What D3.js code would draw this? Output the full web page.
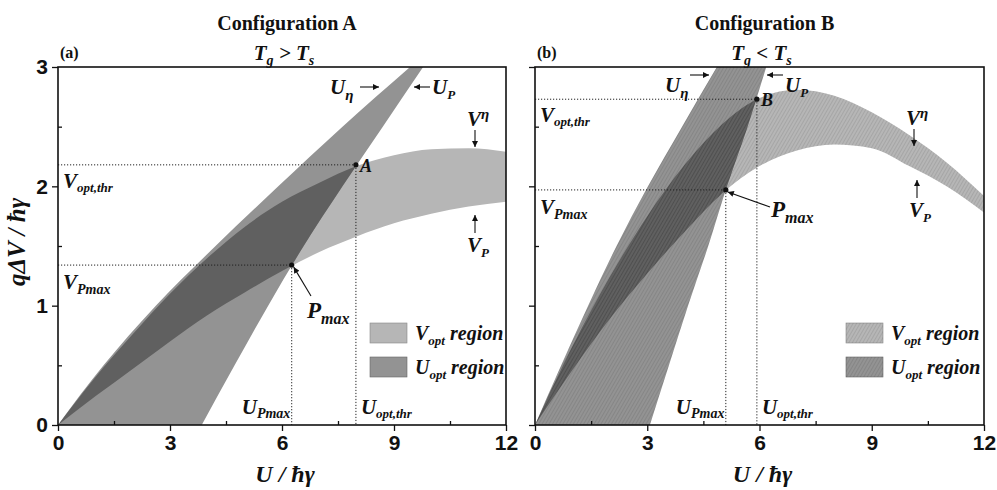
<!DOCTYPE html>
<html><head><meta charset="utf-8">
<script src="https://cdn.jsdelivr.net/npm/d3@7"></script>
<style>body{margin:0;background:#fff}</style>
</head><body>
<svg id="chart" width="997" height="490"></svg>
<script>
// Sampling grids: U values for the optimal-voltage curves, V values for the optimal-energy curves
const uGrid = [0, 1, 2, 3, 4, 5, 6, 7, 8, 9, 10, 11, 12];
const vGrid = [0, 0.5, 1, 1.5, 2, 2.5, 3];

// Configuration A (Tg > Ts)
const vEtaA = [0, 0.40, 0.76, 1.10, 1.40, 1.66, 1.87, 2.03, 2.17, 2.26, 2.31, 2.32, 2.29];
const vPowA = [0, 0.24, 0.47, 0.70, 0.92, 1.11, 1.29, 1.45, 1.58, 1.69, 1.77, 1.83, 1.87];
const uEtaA = [0, 1.22, 2.62, 4.22, 5.90, 7.62, 9.43];
const uPowA = [3.85, 4.73, 5.63, 6.58, 7.62, 8.70, 9.78];
const pMaxA = [6.26, 1.34];
const thrA = [7.98, 2.18];

// Configuration B (Tg < Ts)
const vEtaB = [0, 0.66, 1.24, 1.75, 2.18, 2.52, 2.74, 2.81, 2.76, 2.62, 2.43, 2.20, 1.92];
const vPowB = [0, 0.46, 0.89, 1.27, 1.62, 1.94, 2.17, 2.30, 2.35, 2.32, 2.17, 2.00, 1.78];
const uEtaB = [0, 0.70, 1.42, 2.18, 3.02, 3.93, 4.86];
const uPowB = [3.07, 3.58, 4.09, 4.63, 5.13, 5.68, 6.18];
const pMaxB = [5.10, 1.97];
const thrB = [5.93, 2.73];

const xTicks = [0, 3, 6, 9, 12];
const xMinor = [1.5, 4.5, 7.5, 10.5];
const yTicks = [0, 1, 2, 3];
const yMinor = [0.5, 1.5, 2.5];

const SERIF = "'Liberation Serif','Times New Roman',serif";
const SANS = "'Liberation Sans',Arial,sans-serif";
const COL_V = "#b6b6b6", COL_U = "#939393", COL_VU = "#606060";

const svg = d3.select("#chart");
const defs = svg.append("defs");
defs.append("marker").attr("id", "arr")
  .attr("viewBox", "0 0 10 10").attr("refX", 10).attr("refY", 5)
  .attr("markerWidth", 7).attr("markerHeight", 6).attr("markerUnits", "userSpaceOnUse")
  .attr("orient", "auto")
  .append("path").attr("d", "M0,0 L10,5 L0,10 Z").attr("fill", "#111");

// fine diagonal hatching laid over the shaded regions of panel (b)
const hatch = defs.append("pattern").attr("id", "hatch")
  .attr("patternUnits", "userSpaceOnUse").attr("width", 3).attr("height", 3)
  .attr("patternTransform", "rotate(30)");
hatch.append("line").attr("x1", 0).attr("y1", 0).attr("x2", 0).attr("y2", 3)
  .attr("stroke", "#000").attr("stroke-width", 1).attr("stroke-opacity", 0.18);

// italic bold label with sub/superscript parts: {t, size, s (baseline shift, +down)}
function rich(g, x, y, parts, anchor) {
  const t = g.append("text").attr("x", x).attr("y", y)
    .attr("font-family", SERIF).attr("font-style", "italic").attr("font-weight", "bold")
    .attr("text-anchor", anchor || "start").attr("fill", "#111");
  let shift = 0;
  parts.forEach(p => {
    const s = p.s || 0;
    const ts = t.append("tspan").text(p.t).attr("font-size", p.size || 20);
    if (s - shift) ts.attr("dy", s - shift);
    shift = s;
  });
  return t;
}
function arrow(g, x1, y1, x2, y2) {
  g.append("line").attr("x1", x1).attr("y1", y1).attr("x2", x2).attr("y2", y2)
    .attr("stroke", "#111").attr("stroke-width", 1.1).attr("marker-end", "url(#arr)");
}

function panel(cfg) {
  const top = 67, bottom = 425;
  const x = d3.scaleLinear().domain([0, 12]).range([cfg.left, cfg.right]);
  const y = d3.scaleLinear().domain([0, 3]).range([bottom, top]);
  const g = svg.append("g");
  const id = cfg.id;

  defs.append("clipPath").attr("id", "plot" + id).append("rect")
    .attr("x", cfg.left).attr("y", top).attr("width", cfg.right - cfg.left).attr("height", bottom - top);

  const vArea = d3.area()
    .x((d, i) => x(uGrid[i])).y0((d, i) => y(cfg.vPow[i])).y1((d, i) => y(cfg.vEta[i]))
    .curve(d3.curveMonotoneX);
  const uArea = d3.area()
    .y((d, i) => y(vGrid[i])).x0((d, i) => x(cfg.uEta[i])).x1((d, i) => x(cfg.uPow[i]))
    .curve(d3.curveMonotoneY);

  defs.append("clipPath").attr("id", "uopt" + id).append("path").attr("d", uArea(vGrid));

  const regions = g.append("g").attr("clip-path", `url(#plot${id})`);
  regions.append("path").attr("d", vArea(uGrid)).attr("fill", COL_V);
  regions.append("path").attr("d", uArea(vGrid)).attr("fill", COL_U);
  regions.append("g").attr("clip-path", `url(#uopt${id})`)
    .append("path").attr("d", vArea(uGrid)).attr("fill", COL_VU);
  if (cfg.hatched) {
    regions.append("path").attr("d", vArea(uGrid)).attr("fill", "url(#hatch)");
    regions.append("path").attr("d", uArea(vGrid)).attr("fill", "url(#hatch)");
  }

  // guide lines to the marked points
  const dots = g.append("g").attr("stroke", "#222").attr("stroke-width", 1)
    .attr("stroke-dasharray", "1.2,1.8").attr("fill", "none");
  [cfg.thr, cfg.pMax].forEach(p => {
    dots.append("line").attr("x1", x(0)).attr("x2", x(p[0])).attr("y1", y(p[1])).attr("y2", y(p[1]));
    dots.append("line").attr("x1", x(p[0])).attr("x2", x(p[0])).attr("y1", y(p[1])).attr("y2", y(0));
  });
  [cfg.thr, cfg.pMax].forEach(p => {
    g.append("circle").attr("cx", x(p[0])).attr("cy", y(p[1])).attr("r", 2.6).attr("fill", "#111");
  });

  // axes
  const ax = g.append("g").attr("font-family", SANS);
  const xa = ax.append("g").attr("transform", `translate(0,${bottom})`)
    .call(d3.axisBottom(x).tickValues(xTicks).tickSize(6).tickSizeOuter(0).tickPadding(4).tickFormat(d3.format("d")));
  const xm = ax.append("g").attr("transform", `translate(0,${bottom})`)
    .call(d3.axisBottom(x).tickValues(xMinor).tickSize(-4).tickSizeOuter(0).tickFormat(""));
  const ya = ax.append("g").attr("transform", `translate(${cfg.left},0)`)
    .call(d3.axisLeft(y).tickValues(yTicks).tickSize(6).tickSizeOuter(0).tickPadding(4)
      .tickFormat(cfg.yLabels ? d3.format("d") : ""));
  const ym = ax.append("g").attr("transform", `translate(${cfg.left},0)`)
    .call(d3.axisLeft(y).tickValues(yMinor).tickSize(-4).tickSizeOuter(0).tickFormat(""));
  [xa, xm, ya, ym].forEach(a => {
    a.select(".domain").remove();
    a.selectAll("line").attr("stroke", "#111").attr("stroke-width", 1.3);
    a.selectAll("text").attr("font-size", 21).attr("font-weight", "bold").attr("fill", "#111")
      .attr("font-family", SANS);
  });
  g.append("rect").attr("x", cfg.left).attr("y", top)
    .attr("width", cfg.right - cfg.left).attr("height", bottom - top)
    .attr("fill", "none").attr("stroke", "#111").attr("stroke-width", 1.6);

  // titles
  const cx = (cfg.left + cfg.right) / 2 + 5;
  g.append("text").attr("x", cx).attr("y", 30).attr("text-anchor", "middle")
    .attr("font-family", SERIF).attr("font-weight", "bold").attr("font-size", 20).attr("fill", "#111")
    .text(cfg.title);
  rich(g, cx - 3, 60, [{ t: "T", size: 21 }, { t: "g", size: 14, s: 5 }, { t: " " + cfg.rel + " T", size: 21 }, { t: "s", size: 14, s: 5 }], "middle");
  g.append("text").attr("x", cfg.left + 2).attr("y", 58)
    .attr("font-family", SERIF).attr("font-weight", "bold").attr("font-size", 16).attr("fill", "#111")
    .text(cfg.tag);

  // x axis title
  rich(g, cx - 2, 482, [{ t: "U / ħγ", size: 24 }], "middle");

  // legend
  const lx = cfg.legendX;
  g.append("rect").attr("x", lx).attr("y", 323).attr("width", 37).attr("height", 20).attr("fill", COL_V)
    .attr("stroke", "#888").attr("stroke-width", 0.6);
  g.append("rect").attr("x", lx).attr("y", 357).attr("width", 37).attr("height", 20).attr("fill", COL_U)
    .attr("stroke", "#666").attr("stroke-width", 0.6);
  if (cfg.hatched) {
    g.append("rect").attr("x", lx).attr("y", 323).attr("width", 37).attr("height", 20).attr("fill", "url(#hatch)");
    g.append("rect").attr("x", lx).attr("y", 357).attr("width", 37).attr("height", 20).attr("fill", "url(#hatch)");
  }
  rich(g, lx + 45, 340, [{ t: "V", size: 20 }, { t: "opt", size: 13, s: 5 }, { t: " region", size: 20 }]);
  rich(g, lx + 45, 374, [{ t: "U", size: 20 }, { t: "opt", size: 13, s: 5 }, { t: " region", size: 20 }]);

  // curve and point labels
  const L = cfg.labels;
  rich(g, x(0) + 5, y(cfg.thr[1]) + 23, [{ t: "V", size: 21 }, { t: "opt,thr", size: 13, s: 4 }]);
  rich(g, x(0) + 5, y(cfg.pMax[1]) + 24, [{ t: "V", size: 21 }, { t: "Pmax", size: 14, s: 5 }]);
  rich(g, x(cfg.pMax[0]) - 50, 414, [{ t: "U", size: 21 }, { t: "Pmax", size: 14, s: 4 }]);
  rich(g, x(cfg.thr[0]) + 5, 414, [{ t: "U", size: 21 }, { t: "opt,thr", size: 13, s: 4 }]);
  rich(g, x(cfg.thr[0]) + 4, y(cfg.thr[1]) + 7, [{ t: cfg.pointName, size: 18 }]);
  rich(g, L.pmax[0], L.pmax[1], [{ t: "P", size: 23 }, { t: "max", size: 16, s: 6 }]);
  arrow(g, L.pmaxArrow[0], L.pmaxArrow[1], x(cfg.pMax[0]) + 2, y(cfg.pMax[1]) + 2);
  rich(g, L.ueta[0], L.ueta[1], [{ t: "U", size: 21 }, { t: "η", size: 15, s: 6 }]);
  arrow(g, L.uetaArrow[0], L.uetaArrow[1], L.uetaArrow[0] + 19, L.uetaArrow[1]);
  rich(g, L.up[0], L.up[1], [{ t: "U", size: 21 }, { t: "P", size: 13, s: 5 }]);
  arrow(g, L.up[0] - 2, L.uetaArrow[1], L.up[0] - 18, L.uetaArrow[1]);
  rich(g, L.veta[0], L.veta[1], [{ t: "V", size: 21 }, { t: "η", size: 15, s: -7 }]);
  arrow(g, L.veta[0] + 8, L.veta[1] + 4, L.veta[0] + 8, L.veta[1] + 21);
  rich(g, L.vp[0], L.vp[1], [{ t: "V", size: 21 }, { t: "P", size: 13, s: 5 }]);
  arrow(g, L.vp[0] + 8, L.vp[1] - 19, L.vp[0] + 8, L.vp[1] - 37);
}

panel({
  id: "A", left: 58, right: 506, title: "Configuration A", rel: ">", tag: "(a)", yLabels: true,
  vEta: vEtaA, vPow: vPowA, uEta: uEtaA, uPow: uPowA, pMax: pMaxA, thr: thrA, pointName: "A",
  legendX: 370, hatched: false,
  labels: {
    pmax: [307, 318], pmaxArrow: [311, 296],
    ueta: [330, 94], uetaArrow: [360, 87], up: [432, 94],
    veta: [467, 126], vp: [467, 252]
  }
});
panel({
  id: "B", left: 535, right: 984, title: "Configuration B", rel: "<", tag: "(b)", yLabels: false,
  vEta: vEtaB, vPow: vPowB, uEta: uEtaB, uPow: uPowB, pMax: pMaxB, thr: thrB, pointName: "B",
  legendX: 846, hatched: true,
  labels: {
    pmax: [771, 217], pmaxArrow: [770, 207],
    ueta: [665, 92], uetaArrow: [690, 75], up: [785, 92],
    veta: [906, 125], vp: [909, 217]
  }
});

// shared y axis title
svg.append("text").attr("transform", "translate(25,242) rotate(-90)")
  .attr("text-anchor", "middle").attr("font-family", SERIF).attr("font-style", "italic")
  .attr("font-weight", "bold").attr("font-size", 25).attr("fill", "#111")
  .text("qΔV / ħγ");
</script>
</body></html>
